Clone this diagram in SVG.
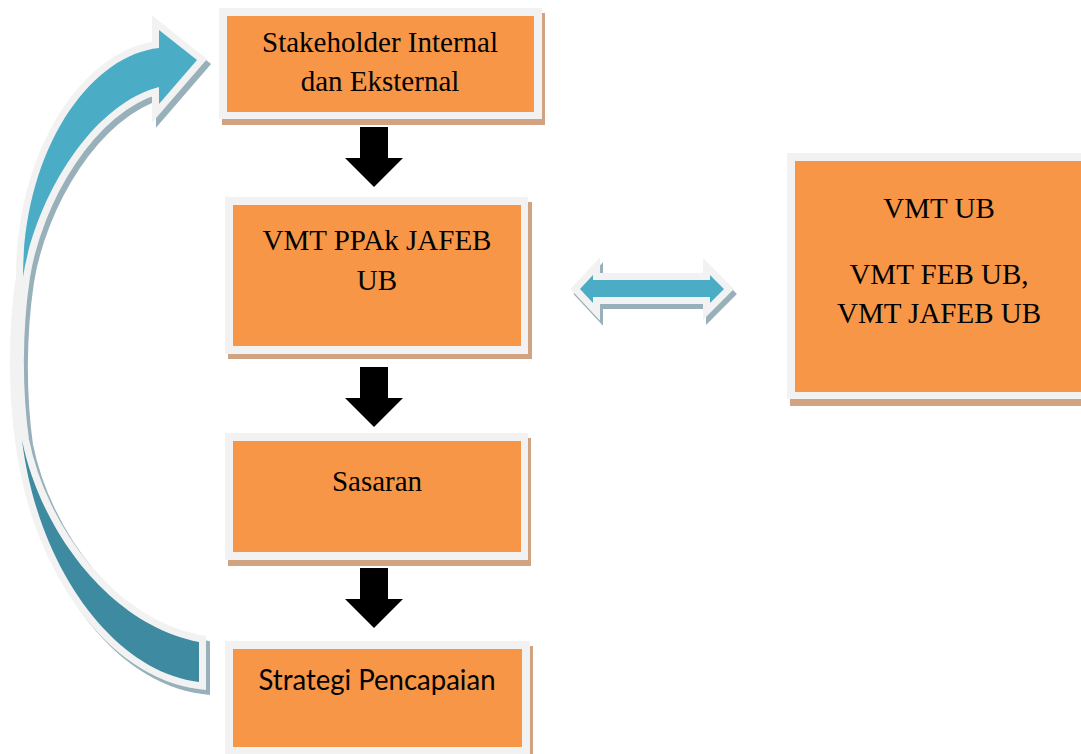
<svg xmlns="http://www.w3.org/2000/svg" width="1081" height="754" viewBox="0 0 1081 754">
<style>
.sh{fill:#d0a382}
.fr{fill:#f2f2f2}
.or{fill:#f79646}
.t{font-family:"Liberation Serif","Times New Roman",serif;font-size:29px;fill:#000;text-anchor:middle}
.ts{font-family:Lato,"Noto Sans","Liberation Sans",sans-serif;font-size:28px;fill:#000;text-anchor:middle}
.blk{fill:#000}
.ashadow{fill:#97b0ba;stroke:#97b0ba;stroke-width:14;stroke-linejoin:miter;stroke-miterlimit:10}
.aframe{fill:#f2f2f2;stroke:#f2f2f2;stroke-width:14;stroke-linejoin:miter;stroke-miterlimit:10}
.teal{fill:#4bacc6}
.teald{fill:#3d8aa1}
</style>
<defs>
<path id="curve" d="M199,682 C115,672 38,570 22,440 C15,390 15,330 23,277 C23,150 90,55 159,48 L159,30 L197,60 L159,104 L159,87 C90,105 35,200 23,277 C15,330 15,390 22,440 C40,530 110,625 199,642 Z"/>
<path id="dbl" d="M580,289 L593,275 L593,280 L710,280 L710,275 L724,289 L710,303 L710,297 L593,297 L593,303 Z"/>
<path id="down" d="M360,0 H388 V31 H403 L374,60 L345,31 H360 Z"/>
</defs>

<g id="connectors">
  <use href="#down" class="blk" transform="translate(0,127)"/>
  <use href="#down" class="blk" transform="translate(0,367)"/>
  <use href="#down" class="blk" transform="translate(0,568)"/>
  <g id="double-arrow">
    <use href="#dbl" class="ashadow" transform="translate(3,5)"/>
    <use href="#dbl" class="aframe"/>
    <use href="#dbl" class="teal"/>
  </g>
  <g id="curved-arrow">
    <use href="#curve" class="ashadow" transform="translate(4,5)"/>
    <use href="#curve" class="aframe"/>
    <path class="teal" d="M23,277 C23,150 90,55 159,48 L159,30 L197,60 L159,104 L159,87 C90,105 35,200 23,277 Z"/>
    <path class="teald" d="M22,440 C38,570 115,672 199,682 L199,642 C110,625 40,530 22,440 Z"/>
  </g>
</g>

<g id="node-stakeholder">
  <rect class="sh" x="222" y="13" width="323" height="112"/>
  <rect class="fr" x="219" y="8" width="323" height="111"/>
  <rect class="or" x="227" y="16" width="307" height="96"/>
  <text class="t" x="380" y="52">Stakeholder Internal</text>
  <text class="t" x="380" y="91">dan Eksternal</text>
</g>

<g id="node-vmt-ppak">
  <rect class="sh" x="228" y="202" width="304" height="157"/>
  <rect class="fr" x="225" y="197" width="303" height="157"/>
  <rect class="or" x="233" y="205" width="288" height="141"/>
  <text class="t" x="377" y="250">VMT PPAk JAFEB</text>
  <text class="t" x="377" y="290">UB</text>
</g>

<g id="node-sasaran">
  <rect class="sh" x="228" y="438" width="303" height="128"/>
  <rect class="fr" x="225" y="433" width="303" height="127"/>
  <rect class="or" x="233" y="441" width="288" height="111"/>
  <text class="t" x="377" y="491">Sasaran</text>
</g>

<g id="node-strategi">
  <rect class="sh" x="228" y="646" width="305" height="120"/>
  <rect class="fr" x="225" y="641" width="305" height="120"/>
  <rect class="or" x="233" y="649" width="289" height="98"/>
  <text class="ts" x="377" y="690" textLength="237" lengthAdjust="spacingAndGlyphs">Strategi Pencapaian</text>
</g>

<g id="node-vmt-ub">
  <rect class="sh" x="790" y="158" width="304" height="248"/>
  <rect class="fr" x="787" y="153" width="304" height="246"/>
  <rect class="or" x="795" y="161" width="288" height="231"/>
  <text class="t" x="939" y="218">VMT UB</text>
  <text class="t" x="939" y="284">VMT FEB UB,</text>
  <text class="t" x="939" y="323">VMT JAFEB UB</text>
</g>
</svg>
